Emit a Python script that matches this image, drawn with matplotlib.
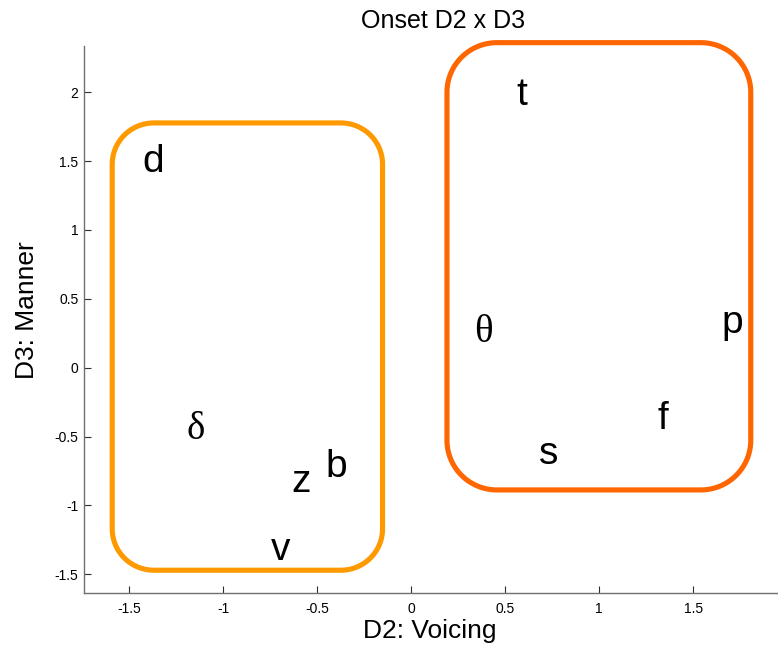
import numpy as np
import matplotlib
matplotlib.use("Agg")
from matplotlib import pyplot as plt
from matplotlib.path import Path
from matplotlib.patches import PathPatch

# onset consonants placed on the D2 (voicing) / D3 (manner) plane
labels = ["d", "t", "δ", "z", "b", "v", "s", "f", "θ", "p"]
d2 = [-1.431, 0.559, -1.198, -0.638, -0.457, -0.750, 0.677, 1.312, 0.337, 1.653]
d3 = [1.420, 1.908, -0.518, -0.900, -0.796, -1.397, -0.702, -0.445, 0.187, 0.250]
greek = {"δ", "θ"}

# the two groups: (x0, y0, x1, y1), corner radii (rx, ry), colour
groups = [
    ((-1.592, -1.471, -0.153, 1.777), (0.222, 0.30), "#FF9900"),
    ((0.190, -0.888, 1.807, 2.360), (0.266, 0.36), "#FF6600"),
]

xticks = [-1.5, -1, -0.5, 0, 0.5, 1, 1.5]
yticks = [-1.5, -1, -0.5, 0, 0.5, 1, 1.5, 2]


def rounded_box(x0, y0, x1, y1, rx, ry, n=30):
    # closed path of a rectangle with elliptical corners
    pts = []
    corners = [(x1 - rx, y1 - ry, 0), (x0 + rx, y1 - ry, 90),
               (x0 + rx, y0 + ry, 180), (x1 - rx, y0 + ry, 270)]
    for cx, cy, a0 in corners:
        t = np.radians(np.linspace(a0, a0 + 90, n))
        pts.extend(zip(cx + rx * np.cos(t), cy + ry * np.sin(t)))
    pts.append(pts[0])
    codes = [Path.MOVETO] + [Path.LINETO] * (len(pts) - 2) + [Path.CLOSEPOLY]
    return Path(pts, codes)


def fmt(v):
    return ("%g" % v)


fig = plt.figure(figsize=(7.78, 6.49), dpi=100)
ax = fig.add_axes([0.108, 0.0868, 0.892, 0.8424])
ax.set_xlim(-1.742, 1.952)
ax.set_ylim(-1.634, 2.336)

for (x0, y0, x1, y1), (rx, ry), col in groups:
    ax.add_patch(PathPatch(rounded_box(x0, y0, x1, y1, rx, ry), fill=False,
                           ec=col, lw=3.7, clip_on=False, joinstyle="round"))

for s, x, y in zip(labels, d2, d3):
    fam = "Liberation Serif" if s in greek else "Liberation Sans"
    ax.text(x, y, s, fontsize=28, family=fam, ha="left", va="baseline",
            color="black")

for side in ["top", "right"]:
    ax.spines[side].set_visible(False)
for side in ["left", "bottom"]:
    ax.spines[side].set_color("#707070")
    ax.spines[side].set_linewidth(1.0)

ax.set_xticks(xticks)
ax.set_xticklabels([fmt(v) for v in xticks])
ax.set_yticks(yticks)
ax.set_yticklabels([fmt(v) for v in yticks])
ax.tick_params(direction="in", length=5, width=0.8, color="#303030",
               labelsize=10, labelcolor="black")
ax.tick_params(axis="x", pad=7)
ax.tick_params(axis="y", pad=4)
for lab in ax.get_xticklabels() + ax.get_yticklabels():
    lab.set_family("Liberation Sans")

fig.text(443 / 778, 1 - 28.5 / 649, "Onset D2 x D3", fontsize=18,
         family="Liberation Sans", ha="center", va="baseline")
fig.text(430 / 778, 1 - 638 / 649, "D2: Voicing", fontsize=19,
         family="Liberation Sans", ha="center", va="baseline")
fig.text(34 / 778, 1 - 310 / 649, "D3: Manner", fontsize=19,
         family="Liberation Sans", ha="center", va="baseline", rotation=90,
         rotation_mode="anchor")

fig.savefig("out.png", dpi=100)
